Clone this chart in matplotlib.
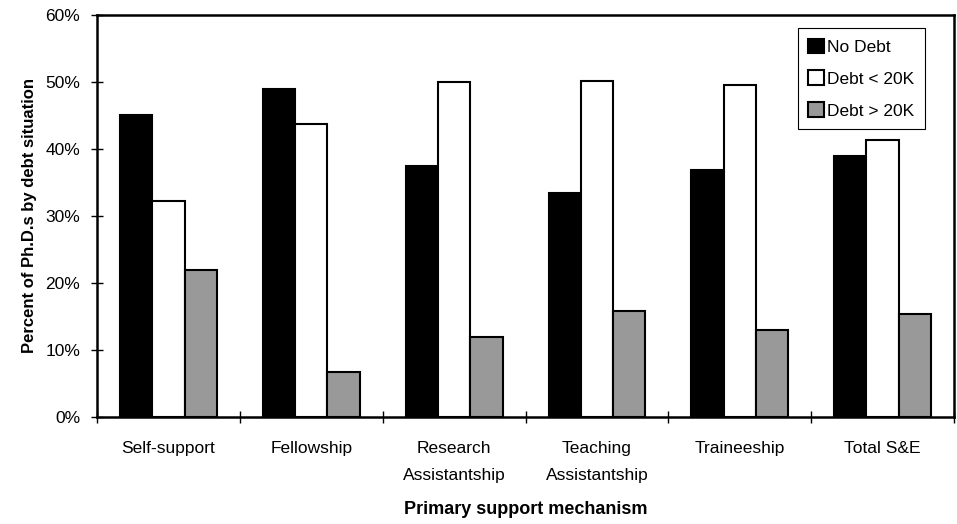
import numpy as np
import matplotlib
matplotlib.use("Agg")
import matplotlib.pyplot as plt
from matplotlib.ticker import FuncFormatter, MultipleLocator

plt.rcParams['font.family'] = ['Liberation Sans', 'DejaVu Sans']

categories = ["Self-support", "Fellowship", "Research\nAssistantship",
              "Teaching\nAssistantship", "Traineeship", "Total S&E"]
no_debt = [45.0, 49.0, 37.5, 33.4, 36.8, 38.9]
debt_lt_20k = [32.2, 43.8, 50.0, 50.1, 49.6, 41.3]
debt_gt_20k = [22.0, 6.7, 11.9, 15.8, 13.0, 15.3]
series_names = ["No Debt", "Debt < 20K", "Debt > 20K"]

fig = plt.figure(figsize=(9.57, 5.24), dpi=100)
ax = fig.add_axes([0.1014, 0.2042, 0.8955, 0.7672])

x = np.arange(len(categories))
w = 0.226
colors = ["black", "white", "#999999"]
for i, (vals, c, name) in enumerate(zip([no_debt, debt_lt_20k, debt_gt_20k], colors, series_names)):
    ax.bar(x + (i - 1) * w, vals, width=w, color=c, edgecolor="black", linewidth=1.5, label=name)

ax.set_xlim(-0.5, len(categories) - 0.5)
ax.set_ylim(0, 60)
ax.yaxis.set_major_locator(MultipleLocator(10))
ax.yaxis.set_major_formatter(FuncFormatter(lambda v, p: f"{v:.0f}%"))

ax.set_xticks(x)
ax.set_xticklabels(categories, fontsize=12.5, va="top")
for t in ax.get_xticklabels():
    t.set_linespacing(2.05)
ax.set_xticks(np.arange(len(categories) + 1) - 0.5, minor=True)
ax.tick_params(axis="x", which="major", length=0, pad=17)
ax.tick_params(axis="x", which="minor", direction="inout", length=8, width=1)
ax.tick_params(axis="y", direction="inout", length=8, width=1, labelsize=12.5, pad=8)

for s in ax.spines.values():
    s.set_linewidth(1.8)

ax.set_ylabel("Percent of Ph.D.s by debt situation", fontsize=12, fontweight="bold", labelpad=6)
ax.set_xlabel("Primary support mechanism", fontsize=13, fontweight="bold", labelpad=13)

leg = ax.legend(loc="upper right", bbox_to_anchor=(0.966, 0.967), fontsize=12.5,
                handlelength=0.9, handleheight=0.9, handletextpad=0.2,
                labelspacing=0.9, borderpad=0.6, fancybox=False, framealpha=1,
                edgecolor="black", borderaxespad=0)
leg.get_frame().set_linewidth(0.8)

fig.savefig("out.png", dpi=100)
